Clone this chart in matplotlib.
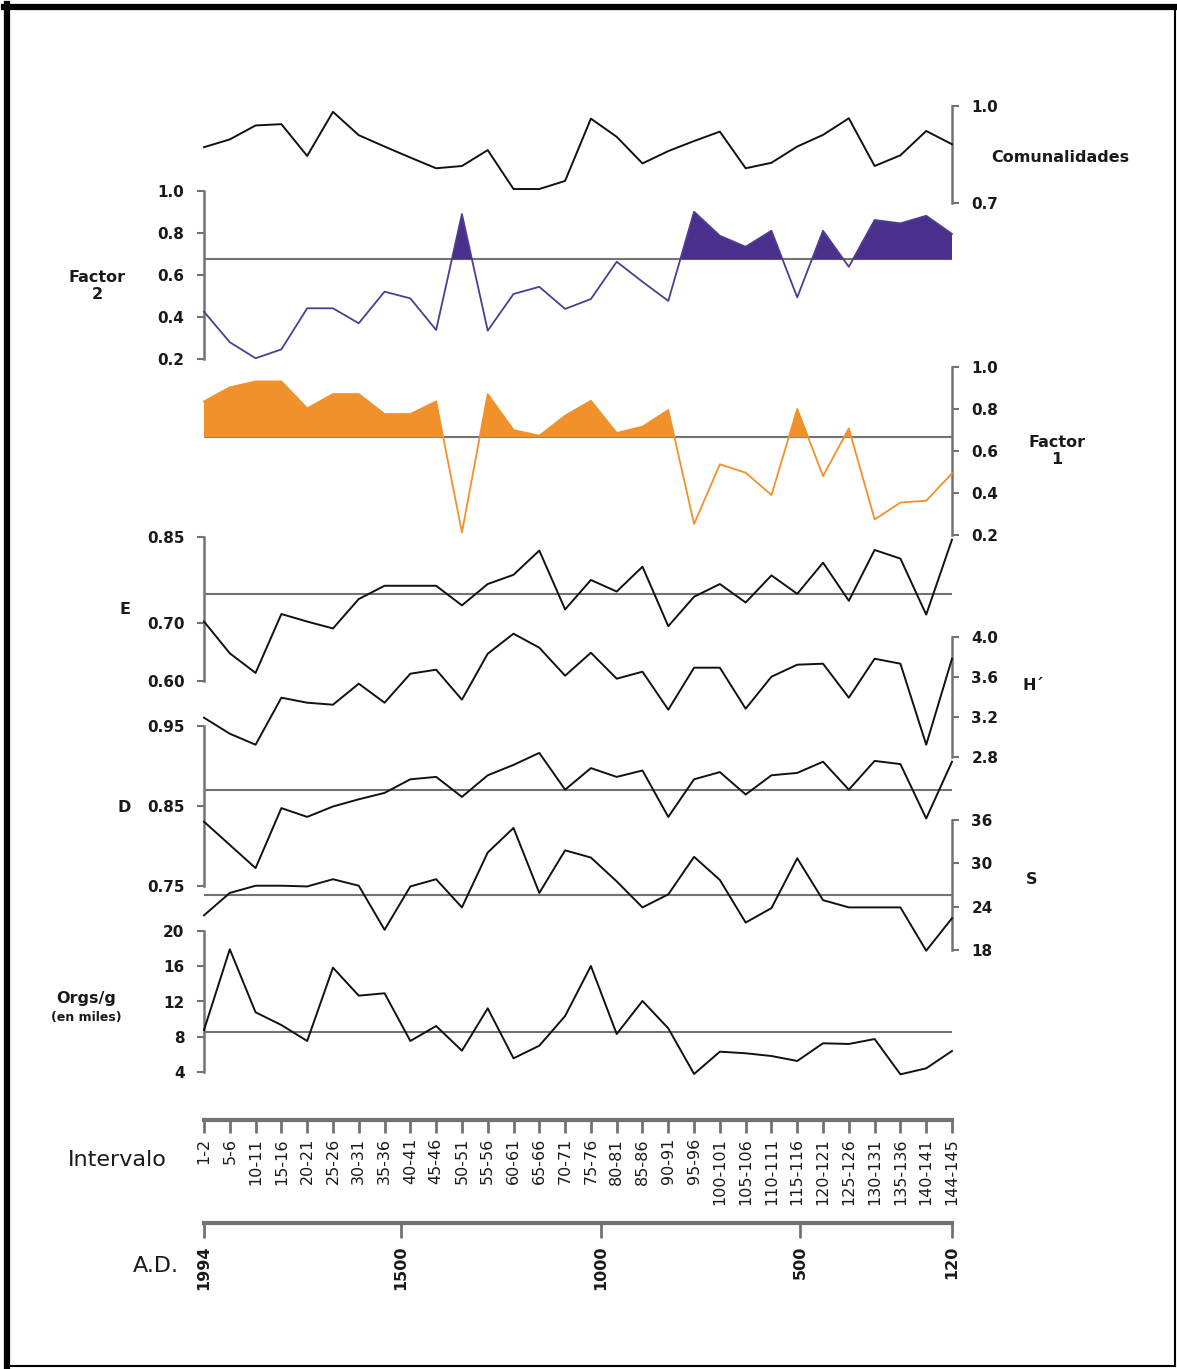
import matplotlib
matplotlib.use("Agg")
import matplotlib.pyplot as plt
from matplotlib.lines import Line2D
import numpy as np

plt.rcParams['font.family'] = ['DejaVu Sans']

# ---- data -------------------------------------------------------------
intervalos = ["1-2", "5-6", "10-11", "15-16", "20-21", "25-26", "30-31", "35-36",
              "40-41", "45-46", "50-51", "55-56", "60-61", "65-66", "70-71", "75-76",
              "80-81", "85-86", "90-91", "95-96", "100-101", "105-106", "110-111",
              "115-116", "120-121", "125-126", "130-131", "135-136", "140-141", "144-145"]

anios_ticks = [1994, 1500, 1000, 500, 120]

comunalidades = [0.873, 0.897, 0.940, 0.944, 0.846, 0.982, 0.910, 0.875, 0.841, 0.808,
                 0.815, 0.864, 0.744, 0.744, 0.769, 0.961, 0.905, 0.823, 0.861, 0.892,
                 0.921, 0.808, 0.825, 0.875, 0.911, 0.962, 0.815, 0.848, 0.923, 0.882]

factor2 = [0.426, 0.281, 0.205, 0.247, 0.442, 0.442, 0.371, 0.521, 0.489, 0.339,
           0.889, 0.336, 0.510, 0.544, 0.439, 0.486, 0.663, 0.568, 0.477, 0.900,
           0.786, 0.734, 0.810, 0.494, 0.810, 0.639, 0.861, 0.845, 0.881, 0.795]
factor2_ref = 0.674

factor1 = [0.835, 0.902, 0.930, 0.930, 0.802, 0.870, 0.870, 0.775, 0.775, 0.835,
           0.212, 0.870, 0.699, 0.672, 0.767, 0.838, 0.685, 0.715, 0.794, 0.252,
           0.536, 0.496, 0.390, 0.799, 0.480, 0.707, 0.274, 0.354, 0.363, 0.493]
factor1_ref = 0.664

equitatividad = [0.703, 0.648, 0.614, 0.716, 0.703, 0.691, 0.742, 0.765, 0.765, 0.765,
                 0.731, 0.768, 0.784, 0.826, 0.724, 0.775, 0.755, 0.798, 0.695, 0.746,
                 0.768, 0.736, 0.783, 0.751, 0.805, 0.739, 0.827, 0.812, 0.715, 0.845]
equitatividad_ref = 0.751

diversidad_h = [3.19, 3.03, 2.92, 3.39, 3.34, 3.32, 3.53, 3.34, 3.63, 3.67,
                3.37, 3.83, 4.03, 3.89, 3.61, 3.84, 3.58, 3.65, 3.27, 3.69,
                3.69, 3.28, 3.60, 3.72, 3.73, 3.39, 3.78, 3.73, 2.92, 3.78]

dominancia_d = [0.830, 0.801, 0.772, 0.847, 0.836, 0.849, 0.858, 0.866, 0.883, 0.886,
                0.861, 0.888, 0.901, 0.916, 0.870, 0.897, 0.886, 0.894, 0.836, 0.883,
                0.892, 0.864, 0.888, 0.891, 0.905, 0.870, 0.906, 0.902, 0.834, 0.905]
dominancia_ref = 0.870

riqueza_s = [22.8, 25.9, 26.9, 26.9, 26.8, 27.8, 26.9, 20.8, 26.8, 27.8,
             23.9, 31.5, 34.9, 25.9, 31.8, 30.8, 27.5, 23.9, 25.7, 30.9,
             27.7, 21.8, 23.8, 30.7, 24.9, 23.9, 23.9, 23.9, 17.9, 22.4]
riqueza_ref = 25.6

orgs_g = [8.78, 17.9, 10.78, 9.34, 7.54, 15.82, 12.66, 12.93, 7.54, 9.23,
          6.44, 11.23, 5.58, 7.01, 10.36, 16.01, 8.33, 12.06, 8.97, 3.81,
          6.33, 6.15, 5.84, 5.28, 7.28, 7.20, 7.76, 3.77, 4.45, 6.41]
orgs_ref = 8.55

# ---- layout helpers (pixel based) ------------------------------------
W, H = 1177, 1369
fig = plt.figure(figsize=(W / 100, H / 100), dpi=100)
fig.patch.set_facecolor("white")

X0, X1 = 204, 952
x = np.arange(len(intervalos))
GRAY = "#727272"
TXT = "#1a1a1a"
LW = 1.4


def panel(top_px, bot_px, v_top, v_bot, side, ticks, fmt):
    ax = fig.add_axes([X0 / W, 1 - bot_px / H, (X1 - X0) / W, (bot_px - top_px) / H])
    ax.set_xlim(0, len(intervalos) - 1)
    ax.set_ylim(v_bot, v_top)
    ax.patch.set_visible(False)
    for s in ax.spines.values():
        s.set_visible(False)
    ax.spines[side].set_visible(True)
    ax.spines[side].set_color(GRAY)
    ax.spines[side].set_linewidth(1.8)
    ax.set_xticks([])
    ax.set_yticks(ticks)
    ax.set_yticklabels([fmt.format(t) for t in ticks])
    if side == "right":
        ax.yaxis.tick_right()
    ax.tick_params(axis="y", direction="out", length=5, width=1.5, color=GRAY,
                   pad=9, labelsize=11, labelcolor=TXT)
    for lab in ax.get_yticklabels():
        lab.set_fontweight("bold")
    return ax


def ref_line(ax, value):
    ax.plot([x[0], x[-1]], [value, value], color=GRAY, lw=1.5, zorder=1,
            solid_capstyle="butt")


def label(px, py, text, size=11.5, weight="bold", **kw):
    fig.text(px / W, 1 - py / H, text, ha="center", va="center", fontsize=size,
             fontweight=weight, color=TXT, **kw)


# Comunalidades
ax = panel(106, 203.3, 1.0, 0.7, "right", [1.0, 0.7], "{:.1f}")
ax.plot(x, comunalidades, color="#111111", lw=LW, clip_on=False, zorder=3)
label(1060, 158, "Comunalidades")

# Factor 2
ax = panel(190.7, 359.3, 1.0, 0.2, "left", [0.2, 0.4, 0.6, 0.8, 1.0], "{:.1f}")
ref_line(ax, factor2_ref)
f2 = np.array(factor2)
ax.fill_between(x, factor2_ref, f2, where=f2 > factor2_ref, interpolate=True,
                color="#4a2f8d", lw=0, zorder=2)
ax.plot(x, f2, color="#4c3d92", lw=1.3, clip_on=False, zorder=3)
label(97, 286, "Factor\n2", linespacing=1.15)

# Factor 1
ax = panel(366.7, 535, 1.0, 0.2, "right", [0.2, 0.4, 0.6, 0.8, 1.0], "{:.1f}")
ref_line(ax, factor1_ref)
f1 = np.array(factor1)
ax.fill_between(x, factor1_ref, f1, where=f1 > factor1_ref, interpolate=True,
                color="#f0912c", lw=0, zorder=2)
ax.plot(x, f1, color="#f0912c", lw=1.3, clip_on=False, zorder=3)
label(1057, 451, "Factor\n1", linespacing=1.15)

# E
ax = panel(536.7, 681, 0.85, 0.60, "left", [0.60, 0.70, 0.85], "{:.2f}")
ref_line(ax, equitatividad_ref)
ax.plot(x, equitatividad, color="#111111", lw=LW, clip_on=False, zorder=3)
label(125, 610, "E")

# H'
ax = panel(636.7, 756.7, 4.0, 2.8, "right", [2.8, 3.2, 3.6, 4.0], "{:.1f}")
ax.plot(x, diversidad_h, color="#111111", lw=LW, clip_on=False, zorder=3)
label(1033, 686, "H\u00b4")

# D
ax = panel(725.7, 885.7, 0.95, 0.75, "left", [0.75, 0.85, 0.95], "{:.2f}")
ref_line(ax, dominancia_ref)
ax.plot(x, dominancia_d, color="#111111", lw=LW, clip_on=False, zorder=3)
label(124, 808, "D")

# S
ax = panel(820, 950, 36, 18, "right", [18, 24, 30, 36], "{:d}")
ref_line(ax, riqueza_ref)
ax.plot(x, riqueza_s, color="#111111", lw=LW, clip_on=False, zorder=3)
label(1032, 880, "S")

# Orgs/g
ax = panel(930.7, 1072.3, 20, 4, "left", [4, 8, 12, 16, 20], "{:d}")
ref_line(ax, orgs_ref)
ax.plot(x, orgs_g, color="#111111", lw=LW, clip_on=False, zorder=3)
label(86, 998, "Orgs/g")
label(86, 1017, "(en miles)", size=9)

# ---- interval axis ------------------------------------------------------
axi = fig.add_axes([X0 / W, 1 - 1120 / H, (X1 - X0) / W, 0.001])
axi.set_xlim(0, len(intervalos) - 1)
axi.patch.set_visible(False)
for s in axi.spines.values():
    s.set_visible(False)
axi.spines["bottom"].set_visible(True)
axi.spines["bottom"].set_color(GRAY)
axi.spines["bottom"].set_linewidth(3)
axi.set_yticks([])
axi.set_xticks(x)
axi.set_xticklabels(intervalos, rotation=90, fontsize=11.5, color=TXT)
axi.tick_params(axis="x", direction="out", length=9, width=2, color=GRAY, pad=4)
label(117, 1160, "Intervalo", size=16, weight="normal")

# ---- calendar axis (A.D.) ----------------------------------------------
axa = fig.add_axes([X0 / W, 1 - 1223 / H, (X1 - X0) / W, 0.001])
axa.set_xlim(anios_ticks[0], anios_ticks[-1])
axa.patch.set_visible(False)
for s in axa.spines.values():
    s.set_visible(False)
axa.spines["bottom"].set_visible(True)
axa.spines["bottom"].set_color(GRAY)
axa.spines["bottom"].set_linewidth(3)
axa.set_yticks([])
axa.set_xticks(anios_ticks)
axa.set_xticklabels([str(a) for a in anios_ticks], rotation=90, fontsize=11.5,
                    fontweight="bold", color=TXT)
axa.tick_params(axis="x", direction="out", length=11, width=2, color=GRAY, pad=5)
label(156, 1266, "A.D.", size=16, weight="normal")

# ---- frame ---------------------------------------------------------------
def fline(xs, ys, lw):
    fig.add_artist(Line2D([v / W for v in xs], [1 - v / H for v in ys],
                          color="black", lw=lw, solid_capstyle="projecting"))

fline([4, 1175], [7, 7], 4.5)
fline([7, 7], [4, 1366], 4.5)
fline([1175, 1175], [7, 1366], 1.5)
fline([7, 1175], [1366, 1366], 1.5)

fig.savefig("out.png", dpi=100, facecolor="white")
